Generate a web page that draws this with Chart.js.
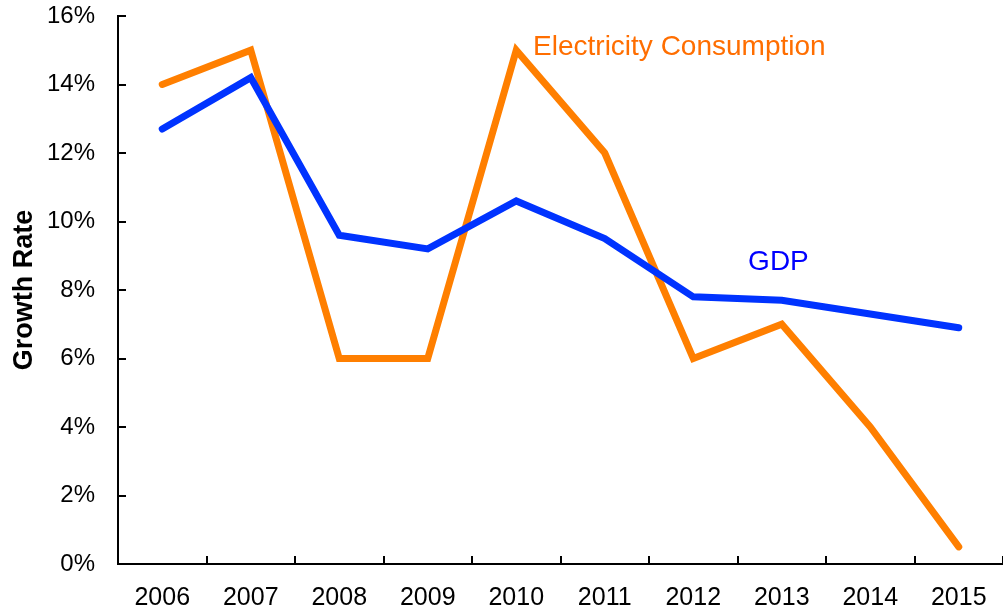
<!DOCTYPE html>
<html>
<head>
<meta charset="utf-8">
<script src="https://cdn.jsdelivr.net/npm/chart.js@4"></script>
<style>
  html, body { margin: 0; padding: 0; background: #fff; }
  #wrap { width: 1003px; height: 613px; position: relative; }
</style>
</head>
<body>
<div id="wrap"><canvas id="growth-chart"></canvas></div>
<script>
// chart data
const years = ['2006', '2007', '2008', '2009', '2010', '2011', '2012', '2013', '2014', '2015'];
const gdpGrowth = [12.7, 14.2, 9.6, 9.2, 10.6, 9.5, 7.8, 7.7, 7.3, 6.9];
const electricityGrowth = [14, 15, 6, 6, 15, 12, 6, 7, 4, 0.5];
const yTicks = [0, 2, 4, 6, 8, 10, 12, 14, 16];

const colors = {
    orange: '#FF7F00',
    orangeText: '#FF6E00',
    blue: '#0033FF',
    blueText: '#0000FF',
    axis: '#000000'
};

const fontFamily = "'Liberation Sans', Arial, Helvetica, sans-serif";

// series names written next to the lines: [text, x category position, y value, colour]
const seriesLabels = [
    ['Electricity Consumption', 4.19, 15.1, colors.orangeText],
    ['GDP', 6.62, 8.8, colors.blueText]
];

// ticks that point into the plot, like the original
const innerTicks = {
    id: 'innerTicks',
    afterDraw(chart) {
        const ctx = chart.ctx;
        const xs = chart.scales.x;
        const ys = chart.scales.y;
        const len = 8;
        ctx.save();
        ctx.strokeStyle = colors.axis;
        ctx.lineWidth = 2;
        ctx.beginPath();
        yTicks.forEach(v => {
            const y = Math.round(ys.getPixelForValue(v));
            ctx.moveTo(xs.left, y);
            ctx.lineTo(xs.left + len, y);
        });
        for (let i = 1; i <= years.length; i++) {
            const x = Math.round(xs.getPixelForValue(i - 0.5));
            ctx.moveTo(x, ys.bottom);
            ctx.lineTo(x, ys.bottom - len);
        }
        ctx.stroke();
        ctx.restore();
    }
};

const lineLabels = {
    id: 'lineLabels',
    afterDraw(chart) {
        const ctx = chart.ctx;
        const xs = chart.scales.x;
        const ys = chart.scales.y;
        ctx.save();
        ctx.font = '28px ' + fontFamily;
        ctx.textAlign = 'left';
        ctx.textBaseline = 'middle';
        seriesLabels.forEach(([text, xv, yv, col]) => {
            ctx.fillStyle = col;
            ctx.fillText(text, xs.getPixelForValue(xv), ys.getPixelForValue(yv));
        });
        ctx.restore();
    }
};

const ctx = document.getElementById('growth-chart').getContext('2d');
new Chart(ctx, {
    type: 'line',
    data: {
        labels: years,
        datasets: [
            {
                label: 'GDP',
                data: gdpGrowth,
                borderColor: colors.blue,
                borderWidth: 7,
                borderCapStyle: 'round',
                borderJoinStyle: 'miter',
                pointRadius: 0,
                tension: 0,
                fill: false
            },
            {
                label: 'Electricity Consumption',
                data: electricityGrowth,
                borderColor: colors.orange,
                borderWidth: 7,
                borderCapStyle: 'round',
                borderJoinStyle: 'miter',
                pointRadius: 0,
                tension: 0,
                fill: false
            }
        ]
    },
    options: {
        responsive: true,
        maintainAspectRatio: false,
        animation: false,
        layout: { padding: { top: 16, right: 0, left: 0, bottom: 0 } },
        plugins: {
            legend: { display: false },
            tooltip: { enabled: false }
        },
        scales: {
            x: {
                type: 'category',
                offset: true,
                grid: { display: true, drawOnChartArea: false, drawTicks: false },
                border: { display: true, color: colors.axis, width: 2 },
                ticks: {
                    color: '#000',
                    padding: 19,
                    maxRotation: 0,
                    autoSkip: false,
                    font: { family: fontFamily, size: 25 }
                },
                afterFit(scale) {
                    scale.height = 49;
                    scale.paddingLeft = 0;
                    scale.paddingRight = 0;
                }
            },
            y: {
                min: 0,
                max: 16,
                afterBuildTicks(scale) { scale.ticks = yTicks.map(v => ({ value: v })); },
                grid: { display: true, drawOnChartArea: false, drawTicks: false },
                border: { display: true, color: colors.axis, width: 2 },
                ticks: {
                    color: '#000',
                    padding: 23,
                    font: { family: fontFamily, size: 24 },
                    callback: v => v + '%'
                },
                title: {
                    display: true,
                    text: 'Growth Rate',
                    color: '#000',
                    padding: { top: 8, bottom: 0 },
                    font: { family: fontFamily, size: 27, weight: 'bold' }
                },
                afterFit(scale) {
                    scale.width = 118;
                    scale.paddingTop = 0;
                    scale.paddingBottom = 0;
                }
            }
        }
    },
    plugins: [innerTicks, lineLabels]
});
</script>
</body>
</html>
